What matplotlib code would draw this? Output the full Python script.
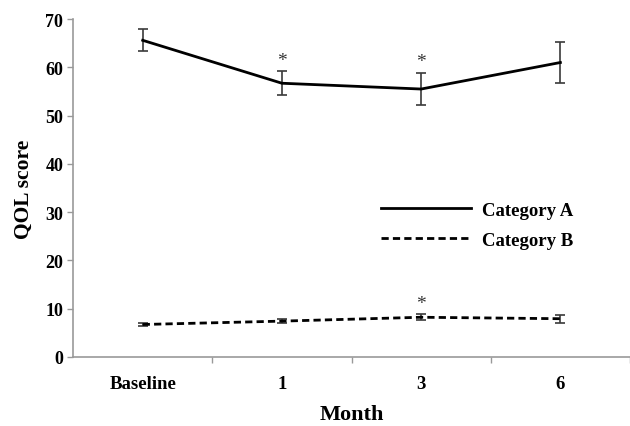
import matplotlib
matplotlib.use("Agg")
import matplotlib.pyplot as plt
import numpy as np
from matplotlib.lines import Line2D

categories = ["Baseline", "1", "3", "6"]
a_mean = [65.6, 56.7, 55.5, 61.0]
a_err = [2.3, 2.5, 3.4, 4.2]
b_mean = [6.7, 7.4, 8.2, 7.9]
b_err = [0.3, 0.4, 0.6, 0.8]
a_sig = [False, True, True, False]
b_sig = [False, False, True, False]
yticks = [0, 10, 20, 30, 40, 50, 60, 70]

plt.rcParams['font.family'] = ['Liberation Serif', 'DejaVu Serif']
fig = plt.figure(figsize=(6.3, 4.27), dpi=100)
ax = fig.add_axes([0.116, 0.162, 0.884, 0.791])

x = np.arange(len(categories))
ecol = '#3a3a3a'
dash = (0, (2.6, 1.5))
ax.errorbar(x, a_mean, yerr=a_err, color='black', lw=2.0, ecolor=ecol,
            elinewidth=1.2, capsize=3.5, capthick=1.2, zorder=3)
ax.errorbar(x, b_mean, yerr=b_err, color='black', lw=2.0, ls=dash,
            ecolor=ecol, elinewidth=1.2, capsize=3.5, capthick=1.2, zorder=3)

for xi, m, e, s in zip(x, a_mean, a_err, a_sig):
    if s:
        ax.text(xi, m + e + 2.3, '*', ha='center', va='center', fontsize=14,
                color='#333333')
for xi, m, e, s in zip(x, b_mean, b_err, b_sig):
    if s:
        ax.text(xi, m + e + 2.3, '*', ha='center', va='center', fontsize=14,
                color='#333333')

ax.set_xlim(-0.5, len(categories) - 0.5)
ax.set_ylim(0, 70)
ax.set_yticks(yticks)
ax.set_yticklabels([str(t) for t in yticks], fontsize=13, fontweight='bold')
ax.set_xticks(x)
ax.set_xticklabels(categories, fontsize=13.5, fontweight='bold')
ax.set_xticks(np.arange(len(categories) + 1)[:-1] + 0.5, minor=True)
ax.tick_params(axis='x', which='major', length=0, pad=13)
ax.tick_params(axis='x', which='minor', length=4, color='#999999', width=1)
ax.tick_params(axis='y', length=4, color='#999999', width=1, pad=3)

for sp in ['top', 'right']:
    ax.spines[sp].set_visible(False)
for sp in ['left', 'bottom']:
    ax.spines[sp].set_color('#999999')
    ax.spines[sp].set_linewidth(1.2)

ax.set_xlabel('Month', fontsize=16, fontweight='bold', labelpad=9)
ax.set_ylabel('QOL score', fontsize=15.5, fontweight='bold', labelpad=8)

handles = [Line2D([], [], color='black', lw=2.0),
           Line2D([], [], color='black', lw=2.0, ls=dash)]
leg = ax.legend(handles, ['Category A', 'Category B'], loc='center left',
                bbox_to_anchor=(0.523, 0.39), frameon=False,
                prop={'weight': 'bold', 'size': 13.5}, handlelength=4.8,
                handletextpad=0.55, labelspacing=0.7)

fig.savefig('out.png', dpi=100)
